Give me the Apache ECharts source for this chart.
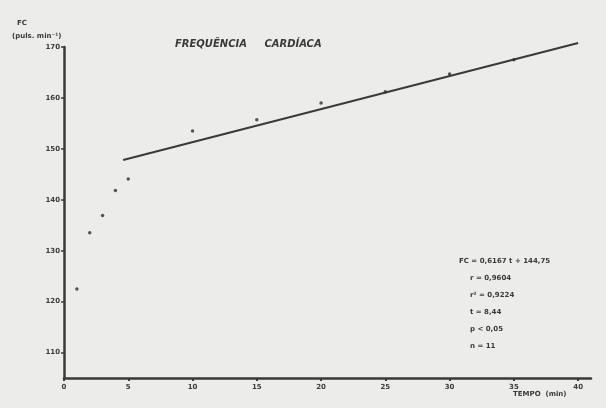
<!DOCTYPE html>
<html>
<head>
<meta charset="utf-8">
<script src="https://cdn.jsdelivr.net/npm/echarts@6/dist/echarts.min.js"></script>
<style>html,body{margin:0;padding:0;background:#ececea;}#c{width:606px;height:408px;}</style>
</head>
<body>
<div id="c"></div>
<script>
// Data
var tempoMin = [1, 2, 3, 4, 5, 10, 15, 20, 25, 30, 35];
var fcValues = [122.5, 133.5, 136.9, 141.8, 144.1, 153.5, 155.7, 159.0, 161.2, 164.7, 167.5];
var fitLineT = [4.6, 40];
var fitLineFC = [147.8, 170.8];
var xTickLabels = [0, 5, 10, 15, 20, 25, 30, 35, 40];
var yTickLabels = [110, 120, 130, 140, 150, 160, 170];
var statsLines = ['FC = 0,6167 t + 144,75', 'r = 0,9604', 'r² = 0,9224', 't = 8,44', 'p < 0,05', 'n = 11'];

var ink = '#3a3a3a';
var fontBase = {fontFamily: 'DejaVu Sans', fontWeight: 'bold', fontSize: 7, fill: ink};

var scatterData = tempoMin.map(function (t, i) { return [t, fcValues[i]]; });
var lineData = fitLineT.map(function (t, i) { return [t, fitLineFC[i]]; });

var statsTop = [258, 275, 292, 309, 326, 343];
var statsLeft = [459, 470, 470, 470, 470, 470];
var graphics = [
  {type: 'text', left: 17, top: 20, style: Object.assign({}, fontBase, {text: 'FC'})},
  {type: 'text', left: 12, top: 33, style: Object.assign({}, fontBase, {text: '(puls. min⁻¹)'})},
  {type: 'text', left: 175, top: 39, style: Object.assign({}, fontBase, {text: 'FREQUÊNCIA     CARDÍACA', fontSize: 10, fontStyle: 'italic'})},
  {type: 'text', left: 513, top: 391, style: Object.assign({}, fontBase, {text: 'TEMPO  (min)'})}
];
statsLines.forEach(function (s, i) {
  graphics.push({type: 'text', left: statsLeft[i], top: statsTop[i], style: Object.assign({}, fontBase, {text: s})});
});

var chart = echarts.init(document.getElementById('c'));
chart.setOption({
  backgroundColor: '#ececea',
  animation: false,
  grid: {left: 64, right: 15, top: 47, bottom: 30},
  xAxis: {
    type: 'value', min: 0, max: 41,
    splitLine: {show: false},
    axisLine: {lineStyle: {color: ink, width: 2.5}},
    axisTick: {show: true, customValues: xTickLabels, length: 3, lineStyle: {color: ink, width: 2}},
    axisLabel: {customValues: xTickLabels, color: ink, fontSize: 7, fontWeight: 'bold', fontFamily: 'DejaVu Sans', margin: 6}
  },
  yAxis: {
    type: 'value', min: 105, max: 170,
    splitLine: {show: false},
    axisLine: {show: true, lineStyle: {color: ink, width: 2.5}},
    axisTick: {show: true, customValues: yTickLabels, length: 3, lineStyle: {color: ink, width: 1.5}},
    axisLabel: {customValues: yTickLabels, color: ink, fontSize: 7, fontWeight: 'bold', fontFamily: 'DejaVu Sans', margin: 4}
  },
  series: [
    {type: 'line', data: lineData, symbol: 'none', clip: false, lineStyle: {color: ink, width: 2}, z: 2},
    {type: 'scatter', data: scatterData, symbol: 'circle', symbolSize: 3.5, itemStyle: {color: '#2e2e2e'}, z: 3}
  ],
  graphic: graphics
});
</script>
</body>
</html>
